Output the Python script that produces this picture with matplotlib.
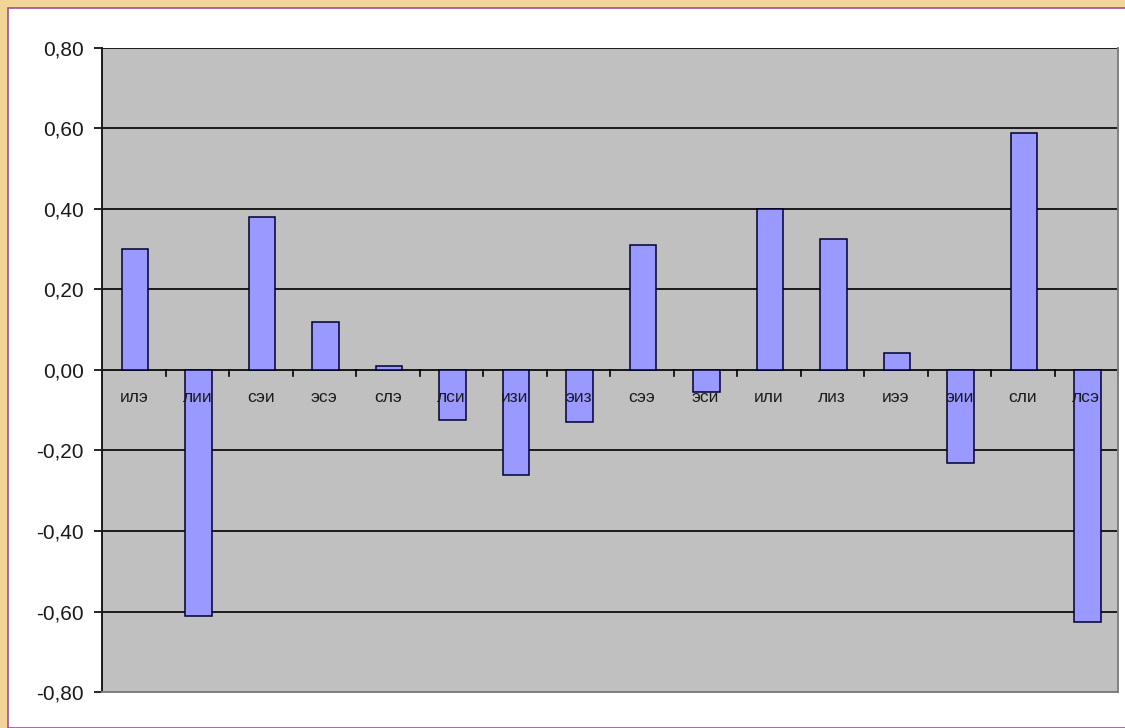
import matplotlib
matplotlib.use("Agg")
import matplotlib.pyplot as plt
from matplotlib.patches import Rectangle
from matplotlib.ticker import FixedLocator, FuncFormatter

categories = ["илэ", "лии", "сэи", "эсэ", "слэ", "лси", "изи", "эиз",
              "сээ", "эси", "или", "лиз", "иээ", "эии", "сли", "лсэ"]
values = [0.30, -0.61, 0.38, 0.12, 0.01, -0.125, -0.26, -0.13,
          0.31, -0.055, 0.40, 0.325, 0.043, -0.23, 0.59, -0.625]
yticks = [-0.8, -0.6, -0.4, -0.2, 0.0, 0.2, 0.4, 0.6, 0.8]

plt.rcParams['font.family'] = ['Liberation Sans', 'DejaVu Sans']

fig = plt.figure(figsize=(11.25, 7.28), dpi=100)
fig.patch.set_facecolor('#F3D498')

# white chart panel with thin purple border
panel = Rectangle((8/1125, 0), 1.0, 1 - 8/728, transform=fig.transFigure,
                  facecolor='white', edgecolor='#9B4F96', linewidth=1.2, zorder=-10)
fig.patches.append(panel)

ax = fig.add_axes([102/1125, 1 - 692/728, (1118 - 102)/1125, (692 - 48)/728])
ax.set_zorder(5)
ax.set_facecolor('#C0C0C0')

n = len(categories)
x = list(range(n))
ax.bar([i + 0.02 for i in x], values, width=0.42, color='#9999FF', edgecolor='#000030',
       linewidth=1.1, zorder=3)

ax.set_xlim(-0.5, n - 0.5)
ax.set_ylim(-0.8, 0.8)
ax.yaxis.set_major_locator(FixedLocator(yticks))
ax.yaxis.set_major_formatter(FuncFormatter(lambda v, p: f"{v:.2f}".replace('.', ',').replace('-0,00', '0,00')))
ax.tick_params(axis='y', direction='out', length=6, width=1.2, labelsize=15,
               pad=7, colors='black', labelcolor='#1a1a1a')
ax.grid(axis='y', color='#1a1a1a', linewidth=1.4, zorder=1)
ax.set_axisbelow(True)

# x axis at zero with category ticks at slot boundaries
ax.set_xticks([])
ax.axhline(0, color='#1a1a1a', linewidth=1.4, zorder=2)
for b in range(1, n + 1):
    ax.plot([b - 0.5, b - 0.5], [0, -0.014], color='black', linewidth=1.2,
            zorder=2, clip_on=False)
for i, c in enumerate(categories):
    ax.text(i, -0.068, c, ha='center', va='center', fontsize=12.5, zorder=4,
            color='#1a1a1a')

for s in ['top', 'right', 'bottom']:
    ax.spines[s].set_color('#808080')
    ax.spines[s].set_linewidth(1.4)
ax.spines['top'].set_visible(False)
ax.spines['left'].set_color('#1a1a1a')
ax.spines['left'].set_linewidth(1.4)

fig.savefig('out.png', dpi=100, facecolor=fig.get_facecolor())
